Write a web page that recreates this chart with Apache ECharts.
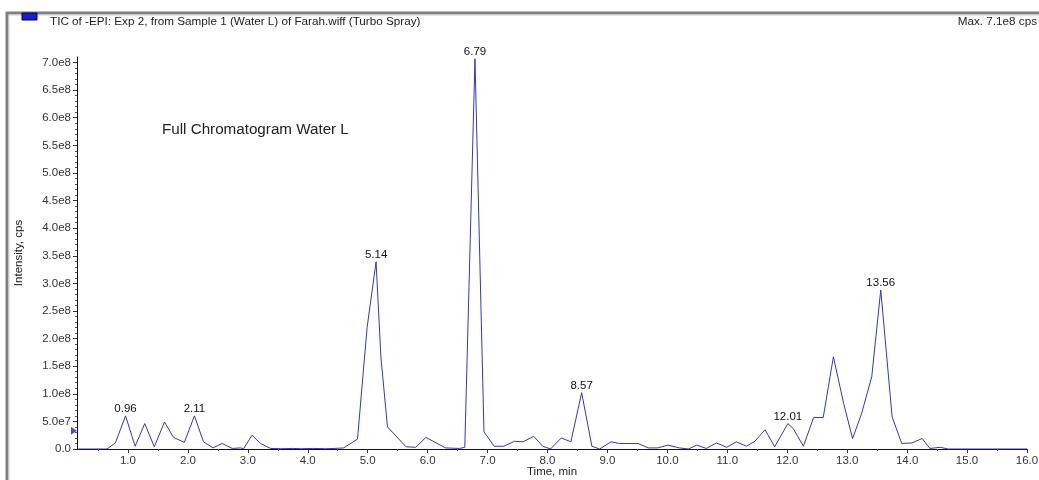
<!DOCTYPE html>
<html>
<head>
<meta charset="utf-8">
<script src="https://cdn.jsdelivr.net/npm/echarts@6/dist/echarts.min.js"></script>
<style>
html,body{margin:0;padding:0;background:#fff;}
#chart{width:1039px;height:480px;}
</style>
</head>
<body>
<div id="chart"></div>
<script>
// Retention time (min)
const times = [0.15,0.3,0.5,0.65,0.79,0.96,1.12,1.28,1.44,1.61,1.76,1.94,2.11,2.26,2.42,2.57,2.74,2.88,2.93,3.07,3.21,3.38,3.55,3.75,3.9,4.1,4.3,4.45,4.6,4.83,4.99,5.14,5.22,5.33,5.64,5.8,5.97,6.3,6.53,6.62,6.79,6.94,7.11,7.27,7.45,7.59,7.77,7.92,8.05,8.23,8.39,8.57,8.74,8.87,9.06,9.2,9.51,9.68,9.84,10.01,10.2,10.35,10.49,10.65,10.82,10.99,11.15,11.32,11.46,11.63,11.79,12.01,12.1,12.27,12.44,12.6,12.77,12.94,13.09,13.24,13.41,13.56,13.75,13.91,14.08,14.25,14.38,14.55,14.69,15.0,15.5,16.0];
// Intensity in units of 1e8 cps
const intensityE8 = [0,0,0,0,0.11,0.60,0.05,0.46,0.04,0.49,0.21,0.12,0.60,0.13,0.02,0.10,0.01,0.02,0.005,0.25,0.10,0.01,0.005,0.01,0.005,0.01,0.005,0.01,0.02,0.18,2.2,3.39,1.67,0.40,0.04,0.03,0.21,0.02,0.01,0.03,7.07,0.31,0.05,0.05,0.14,0.13,0.23,0.05,0.0,0.20,0.13,1.02,0.05,0.0,0.13,0.10,0.10,0.02,0.02,0.07,0.02,0.0,0.07,0.01,0.11,0.03,0.13,0.05,0.14,0.35,0.04,0.46,0.37,0.05,0.57,0.57,1.67,0.83,0.19,0.64,1.31,2.88,0.58,0.10,0.11,0.19,0.01,0.03,0,0,0,0];
// Labelled peaks
const peakTimes = [0.96,2.11,5.14,6.79,8.57,12.01,13.56];
const peakLabels = ['0.96','2.11','5.14','6.79','8.57','12.01','13.56'];
// Axis ticks
const xTickValues = [1,2,3,4,5,6,7,8,9,10,11,12,13,14,15,16];
const xMinorValues = [0.5,1.5,2.5,3.5,4.5,5.5,6.5,7.5,8.5,9.5,10.5,11.5,12.5,13.5,14.5,15.5];
const yTickValues = [0,0.5e8,1.0e8,1.5e8,2.0e8,2.5e8,3.0e8,3.5e8,4.0e8,4.5e8,5.0e8,5.5e8,6.0e8,6.5e8,7.0e8];
const yMinorValues = [];
for (let i = 1; i <= 70; i++) { if (i % 5 !== 0) yMinorValues.push(i * 1e7); }
// Texts
const titleText = 'TIC of -EPI: Exp 2, from Sample 1 (Water L) of Farah.wiff (Turbo Spray)';
const maxText = 'Max. 7.1e8 cps';
const noteText = 'Full Chromatogram Water L';
const yName = 'Intensity, cps';
const xName = 'Time, min';
const markerPoint = [[0.15, 0.33e8]];

const data = times.map((t, i) => [t, intensityE8[i] * 1e8]);
const peakMarks = peakTimes.map((t, k) => {
  const i = times.indexOf(t);
  return { coord: [t, intensityE8[i] * 1e8], value: peakLabels[k] };
});

const fmtY = v => {
  if (v === 0) return '0.0';
  if (v < 1e8) return (v / 1e7).toFixed(1) + 'e7';
  return (v / 1e8).toFixed(1) + 'e8';
};

const font = 'Liberation Sans, Arial, sans-serif';
const chart = echarts.init(document.getElementById('chart'), null, { renderer: 'canvas' });
chart.setOption({
  backgroundColor: '#ffffff',
  animation: false,
  textStyle: { fontFamily: font },
  title: [
    { text: titleText, left: 50, top: 16, padding: 0, textStyle: { fontSize: 11.7, fontWeight: 'normal', color: '#222', fontFamily: font } },
    { text: maxText, right: 2, top: 16, padding: 0, textStyle: { fontSize: 11.7, fontWeight: 'normal', color: '#222', fontFamily: font } },
    { text: noteText, left: 162, top: 122, padding: 0, textStyle: { fontSize: 15.2, fontWeight: 'normal', color: '#222', fontFamily: font } }
  ],
  graphic: [
    { type: 'polyline', shape: { points: [[7, 480], [7, 13], [1039, 13]] }, style: { stroke: '#808080', lineWidth: 3, fill: null } },
    { type: 'polyline', shape: { points: [[9, 480], [9, 15], [1039, 15]] }, style: { stroke: '#d0d0d0', lineWidth: 1, fill: null } },
    { type: 'rect', shape: { x: 22, y: 13, width: 15, height: 7 }, style: { fill: '#1c1ccc', stroke: '#000066', lineWidth: 1 } }
  ],
  grid: { left: 77, right: 12, top: 57, bottom: 31, containLabel: false, outerBoundsMode: 'none' },
  xAxis: [
    {
      type: 'value', min: 0.15, max: 16,
      name: xName, nameLocation: 'middle', nameGap: 17, nameMoveOverlap: false,
      nameTextStyle: { fontSize: 11.5, color: '#222', fontFamily: font },
      axisLine: { show: true, lineStyle: { color: '#111', width: 1 } },
      axisTick: { show: true, length: 4, customValues: xTickValues, lineStyle: { color: '#333' } },
      axisLabel: { customValues: xTickValues, formatter: v => v.toFixed(1), fontSize: 11.5, color: '#333', margin: 6, fontFamily: font },
      splitLine: { show: false }
    },
    {
      type: 'value', min: 0.15, max: 16, position: 'bottom', gridIndex: 0,
      axisLine: { show: false },
      axisTick: { show: true, length: 2, customValues: xMinorValues, lineStyle: { color: '#555' } },
      axisLabel: { show: false },
      splitLine: { show: false }
    }
  ],
  yAxis: [
    {
      type: 'value', min: 0, max: 7.1e8,
      name: yName, nameLocation: 'middle', nameGap: 52, nameRotate: 90, nameMoveOverlap: false,
      nameTextStyle: { fontSize: 11.5, color: '#222', fontFamily: font },
      axisLine: { show: true, lineStyle: { color: '#111', width: 1 } },
      axisTick: { show: true, length: 4, customValues: yTickValues, lineStyle: { color: '#333' } },
      axisLabel: { customValues: yTickValues, formatter: fmtY, fontSize: 11.5, color: '#333', margin: 6, fontFamily: font },
      splitLine: { show: false }
    },
    {
      type: 'value', min: 0, max: 7.1e8, position: 'left', offset: 0,
      axisLine: { show: false },
      axisTick: { show: true, length: 2, customValues: yMinorValues, lineStyle: { color: '#555' } },
      axisLabel: { show: false },
      splitLine: { show: false }
    }
  ],
  series: [
    {
      type: 'line', data: data, xAxisIndex: 0, yAxisIndex: 0,
      showSymbol: false, symbol: 'none',
      lineStyle: { color: '#3535c0', width: 1 },
      markPoint: {
        symbol: 'circle', symbolSize: 0, silent: true,
        label: { show: true, position: 'top', distance: 1, formatter: p => p.value, fontSize: 11.5, color: '#111', fontFamily: font },
        data: peakMarks
      },
      z: 3
    },
    {
      type: 'scatter', data: markerPoint, xAxisIndex: 0, yAxisIndex: 0,
      symbol: 'triangle', symbolRotate: -90, symbolSize: [8, 6], symbolOffset: [-3, 0],
      itemStyle: { color: '#2020c0' }, silent: true, z: 4
    }
  ]
});
</script>
</body>
</html>
